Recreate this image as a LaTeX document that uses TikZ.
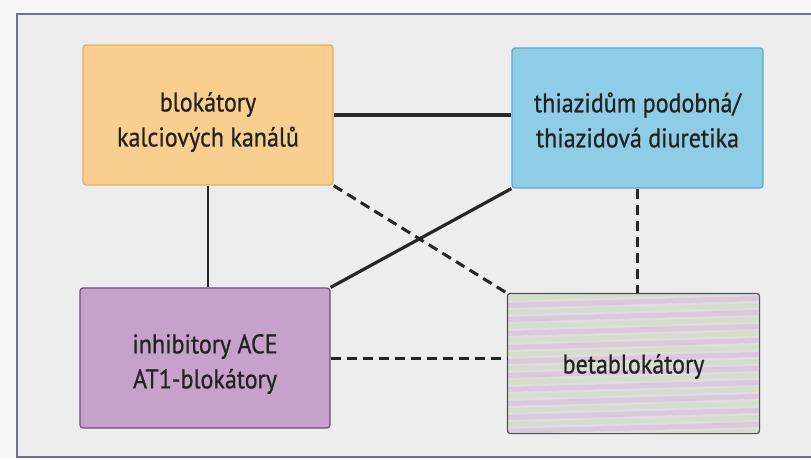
\documentclass[tikz,border=0pt]{standalone}
\usepackage{fontspec}
\setmainfont[FakeStretch=0.89, FakeBold=0.7]{PT Sans}
\begin{document}
\begin{tikzpicture}[x=1pt,y=-1pt,
  box/.style={draw, rounded corners=3pt, line width=1.2pt, inner sep=0pt},
  label/.style={align=center, text=textc, font=\fontsize{27}{35}\selectfont, inner sep=0pt},
  solidline/.style={line width=3.2pt, draw=linec},
  dashline/.style={line width=3pt, draw=linec, dash pattern=on 10pt off 6pt}]
\definecolor{outerbg}{HTML}{F8F8F8}
\definecolor{innerbg}{HTML}{EDEDED}
\definecolor{framec}{HTML}{6E6E9A}
\definecolor{textc}{HTML}{222222}
\definecolor{linec}{HTML}{262626}
\definecolor{orangef}{HTML}{F8CF8F}
\definecolor{oranged}{HTML}{E6AE62}
\definecolor{bluef}{HTML}{8FCDE6}
\definecolor{blued}{HTML}{5AAAD0}
\definecolor{purplef}{HTML}{C6A2CB}
\definecolor{purpled}{HTML}{6E4E78}
\definecolor{betaf}{HTML}{DEDEE2}
\definecolor{betad}{HTML}{505055}
\definecolor{stpink}{HTML}{D8C9DB}
\definecolor{stgreen}{HTML}{D4DDC8}
\useasboundingbox (0,0) rectangle (811,459);
\fill[outerbg] (0,0) rectangle (811,459);
\fill[innerbg] (17,14) rectangle (811,457);
\draw[framec, line width=2pt] (811,14) -- (17,14) -- (17,457) -- (811,457);
% boxes
\node[box, fill=orangef, draw=oranged, minimum width=250pt, minimum height=140pt] (cc) at (208,115) {};
\node[box, fill=bluef, draw=blued, minimum width=251pt, minimum height=140pt] (th) at (637.5,118) {};
\node[box, fill=purplef, draw=purpled, minimum width=250pt, minimum height=140pt] (ace) at (205,358) {};
\node[box, fill=betaf, draw=none, minimum width=251pt, minimum height=139pt] (bb) at (633.5,363.5) {};
% iridescent stripes of the betablocker box
\begin{scope}
\clip[rounded corners=3pt] (bb.north west) rectangle (bb.south east);
\foreach \k in {0,...,11} {
  \draw[stpink, line width=5pt] ([yshift=-\k*14pt+2pt]bb.north west) -- ([yshift=-\k*14pt+9pt]bb.north east);
  \draw[stgreen, line width=4pt] ([yshift=-\k*14pt-5pt]bb.north west) -- ([yshift=-\k*14pt+2pt]bb.north east);
}
\end{scope}
\draw[betad, line width=1.2pt, rounded corners=3pt] (bb.north west) rectangle (bb.south east);
% texts
\node[label] (cct) at ([yshift=-7pt]cc.center) {blokátory\\kalciových kanálů};
\node[label] (tht) at ([yshift=-2pt]th.center) {thiazidům podobná/\\thiazidová diuretika};
\node[label] (acet) at ([yshift=-6pt]ace.center) {inhibitory ACE\\AT1-blokátory};
\node[label] (bbt) at ([yshift=-3pt]bb.center) {betablokátory};
% connectors
\draw[solidline] (cc.east) -- (cc.east -| th.west);
\draw[solidline, line width=2.6pt] (cc.south) -- (cc.south |- ace.north);
\draw[solidline] (ace.north east) -- (th.south west);
\draw[dashline] (cc.south east) -- (bb.north west);
\draw[dashline] (th.south) -- (th.south |- bb.north);
\draw[dashline] (ace.east) -- (ace.east -| bb.west);
\end{tikzpicture}
\end{document}
